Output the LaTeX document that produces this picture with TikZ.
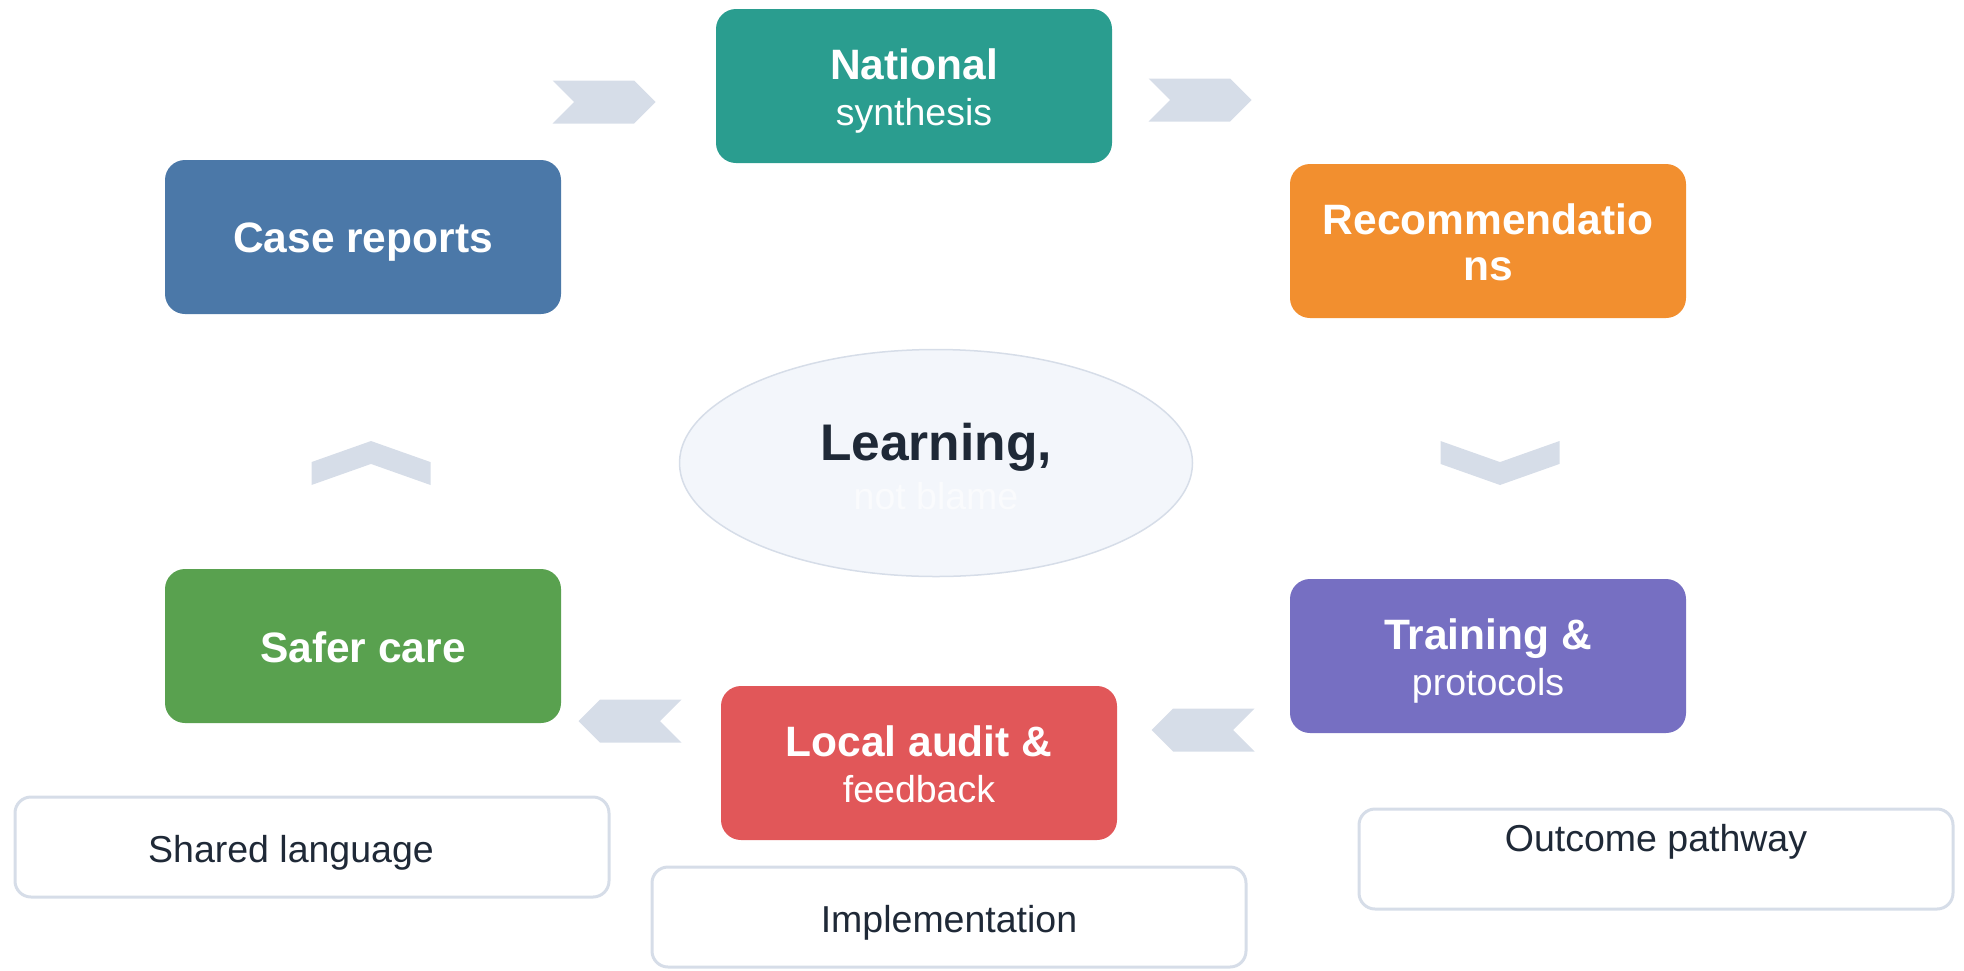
\documentclass[tikz,border=0pt]{standalone}
\usepackage{fontspec}
\setmainfont{Liberation Sans}
\usetikzlibrary{positioning,shapes.geometric,shapes.symbols}

\definecolor{cteal}{HTML}{2A9D8F}
\definecolor{corange}{HTML}{F28F2F}
\definecolor{cpurple}{HTML}{766FC2}
\definecolor{cred}{HTML}{E15759}
\definecolor{cgreen}{HTML}{59A14F}
\definecolor{cblue}{HTML}{4B78A8}
\definecolor{cline}{HTML}{D6DDE8}
\definecolor{chub}{HTML}{F3F6FB}
\definecolor{cdark}{HTML}{1F2937}
\definecolor{cfaint}{HTML}{FAFBFD}

\tikzset{
    stepbox/.style={rectangle,rounded corners=20pt,minimum width=396pt,minimum height=154pt,align=center,text=white,inner sep=0pt},
    oneline/.style={font=\fontsize{42.5}{44}\selectfont\bfseries,execute at begin node=\rule{0pt}{40pt},execute at end node=\rule[-8pt]{0pt}{8pt}},
    twoline/.style={font=\fontsize{42.5}{46}\selectfont\bfseries,text height=84pt,text depth=5pt},
    boxteal/.style={stepbox,fill=cteal},
    boxorg/.style={stepbox,fill=corange},
    boxpur/.style={stepbox,fill=cpurple},
    boxred/.style={stepbox,fill=cred},
    boxgrn/.style={stepbox,fill=cgreen},
    boxblu/.style={stepbox,fill=cblue},
    hub/.style={ellipse,draw=cline,line width=1.5pt,fill=chub,minimum width=513pt,minimum height=227pt,align=center,inner sep=0pt,text=cdark,font=\fontsize{51.5}{49}\selectfont\bfseries,text height=98pt,text depth=5pt},
    notebox/.style={rectangle,rounded corners=16pt,draw=cline,line width=3pt,fill=white,minimum width=594pt,minimum height=100pt,inner sep=0pt,text=cdark,font=\fontsize{37.5}{44}\selectfont,text height=36pt,text depth=6pt},
    chev/.style={signal,fill=cline,draw=none,inner sep=0pt},
    chevright/.style={chev,signal from=west,signal to=east,minimum width=103pt,minimum height=43pt},
    chevleft/.style={chev,signal from=east,signal to=west,minimum width=103pt,minimum height=43pt},
    chevvert/.style={chev,signal from=west,signal to=east,signal pointer angle=141,minimum width=44pt,minimum height=119pt}
}

\newcommand{\subtxt}[1]{{\fontsize{37.5}{46}\selectfont\mdseries #1}}

\begin{document}
\begin{tikzpicture}[x=1pt,y=-1pt]
        \useasboundingbox (0,0) rectangle (1964,970);

        \node[hub] (learn) at (936,463) {Learning,\\{\fontsize{37.5}{49}\selectfont\mdseries\color{cfaint}not blame}};

        \node[boxblu,oneline] (rep) at (363,237) {Case reports};
        \node[boxteal,twoline] (nat) at (914,86) {National\\\subtxt{synthesis}};
        \node[boxorg,twoline] (rec) at (1488,241) {Recommendatio\\ns};
        \node[boxpur,twoline] (trn) at (1488,656) {Training \&\\\subtxt{protocols}};
        \node[boxred,twoline] (aud) at (919,763) {Local audit \&\\\subtxt{feedback}};
        \node[boxgrn,oneline] (safe) at (363,646) {Safer care};

        \node[notebox] (lang) at (312,847) {\hspace*{-42pt}Shared language};
        \node[notebox] (impl) at (949,917) {Implementation};
        \node[notebox,text height=10pt,text depth=26pt] (outc) at (1656,859) {Outcome pathway};

        \begin{scope}
            \node[chevright] (c1) at (604,102) {};
            \node[chevright] (c2) at (1200,100) {};
            \node[chevvert,rotate=-90] (c3) at (1500,463) {};
            \node[chevleft] (c4) at (1203,730) {};
            \node[chevleft] (c5) at (630,721) {};
            \node[chevvert,rotate=90] (c6) at (371,463) {};
        \end{scope}
    \end{tikzpicture}
\end{document}
